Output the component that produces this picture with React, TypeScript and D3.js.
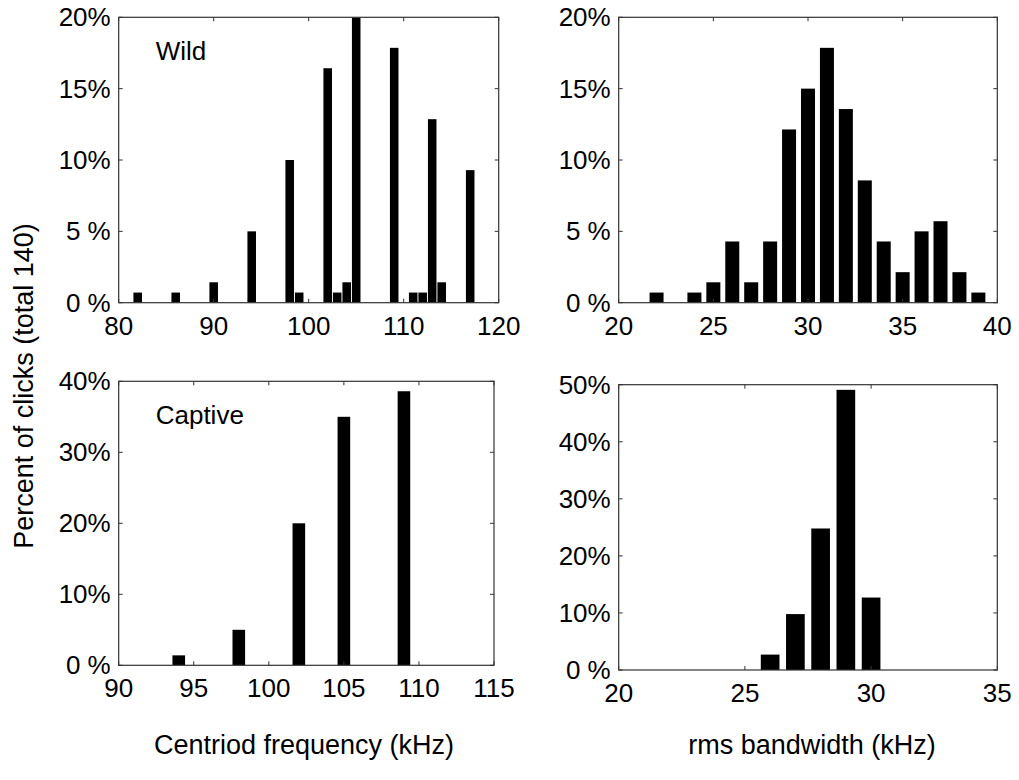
import React from 'react';
import * as d3 from 'd3';

// Wild group: centroid frequency histogram (kHz -> % of 140 clicks)
const wildFreqBins = [82, 86, 90, 94, 98, 99, 102, 103, 104, 105, 109, 111, 112, 113, 114, 117];
const wildFreqPct = [0.71, 0.71, 1.43, 5.0, 10.0, 0.71, 16.43, 0.71, 1.43, 20.0, 17.86, 0.71, 0.71, 12.86, 1.43, 9.29];

// Wild group: rms bandwidth histogram
const wildBwBins = [22, 24, 25, 26, 27, 28, 29, 30, 31, 32, 33, 34, 35, 36, 37, 38, 39];
const wildBwPct = [0.71, 0.71, 1.43, 4.29, 1.43, 4.29, 12.14, 15.0, 17.86, 13.57, 8.57, 4.29, 2.14, 5.0, 5.71, 2.14, 0.71];

// Captive group
const captiveFreqBins = [94, 98, 102, 105, 109];
const captiveFreqPct = [1.4, 5.0, 20.0, 35.0, 38.6];
const captiveBwBins = [26, 27, 28, 29, 30];
const captiveBwPct = [2.7, 9.8, 24.8, 49.1, 12.7];

const freqTicksTop = [80, 90, 100, 110, 120];
const bwTicksTop = [20, 25, 30, 35, 40];
const freqTicksBottom = [90, 95, 100, 105, 110, 115];
const bwTicksBottom = [20, 25, 30, 35];
const pctTicksTop = [0, 5, 10, 15, 20];
const pctTicksCaptiveFreq = [0, 10, 20, 30, 40];
const pctTicksCaptiveBw = [0, 10, 20, 30, 40, 50];

const FONT = '"Liberation Sans", Arial, Helvetica, sans-serif';
const AXIS = '#333';

type PanelProps = {
  bins: number[];
  pct: number[];
  xDomain: [number, number];
  yDomain: [number, number];
  xTicks: number[];
  yTicks: number[];
  box: { x0: number; x1: number; y0: number; y1: number };
  barWidth: number;
  label?: string;
};

const fmtPct = (v: number) => (v < 10 ? `${v} %` : `${v}%`);

const Panel = ({ bins, pct, xDomain, yDomain, xTicks, yTicks, box, barWidth, label }: PanelProps) => {
  const x = d3.scaleLinear().domain(xDomain).range([box.x0, box.x1]);
  const y = d3.scaleLinear().domain(yDomain).range([box.y1, box.y0]);
  const tick = 4;
  const clipId = `clip-${box.x0}-${box.y0}`.replace(/\./g, '_');

  return (
    <g>
      <defs>
        <clipPath id={clipId}>
          <rect x={box.x0} y={box.y0} width={box.x1 - box.x0} height={box.y1 - box.y0} />
        </clipPath>
      </defs>
      <g clipPath={`url(#${clipId})`}>
        {bins.map((b, i) => (
          <rect
            key={b}
            x={x(b - barWidth / 2)}
            y={y(pct[i])}
            width={x(b + barWidth / 2) - x(b - barWidth / 2)}
            height={y(0) - y(pct[i])}
            fill="#000"
          />
        ))}
      </g>
      <rect
        x={box.x0}
        y={box.y0}
        width={box.x1 - box.x0}
        height={box.y1 - box.y0}
        fill="none"
        stroke={AXIS}
        strokeWidth={1.2}
      />
      {xTicks.map((t) => (
        <g key={`xt${t}`}>
          <line x1={x(t)} x2={x(t)} y1={box.y1} y2={box.y1 - tick} stroke={AXIS} />
          <line x1={x(t)} x2={x(t)} y1={box.y0} y2={box.y0 + tick} stroke={AXIS} />
          <text x={x(t)} y={box.y1 + 32} textAnchor="middle" fontSize={26} fontFamily={FONT}>
            {t}
          </text>
        </g>
      ))}
      {yTicks.map((t) => (
        <g key={`yt${t}`}>
          <line x1={box.x0} x2={box.x0 + tick} y1={y(t)} y2={y(t)} stroke={AXIS} />
          <line x1={box.x1} x2={box.x1 - tick} y1={y(t)} y2={y(t)} stroke={AXIS} />
          <text
            x={box.x0 - 8}
            y={y(t)}
            textAnchor="end"
            dominantBaseline="central"
            fontSize={26}
            fontFamily={FONT}
          >
            {fmtPct(t)}
          </text>
        </g>
      ))}
      {label && (
        <text x={box.x0 + 37} y={box.y0 + 43} fontSize={26} fontFamily={FONT}>
          {label}
        </text>
      )}
    </g>
  );
};

export default function App() {
  const W = 1019;
  const H = 780;
  return (
    <div style={{ position: 'absolute', left: 0, top: 0 }}>
      <svg width={W} height={H} style={{ display: 'block', background: '#fff' }}>
        <rect width={W} height={H} fill="#fff" />
        <Panel
          bins={wildFreqBins}
          pct={wildFreqPct}
          xDomain={[80, 120]}
          yDomain={[0, 20]}
          xTicks={freqTicksTop}
          yTicks={pctTicksTop}
          box={{ x0: 118.7, x1: 498.7, y0: 17.3, y1: 302.7 }}
          barWidth={0.9}
          label="Wild"
        />
        <Panel
          bins={wildBwBins}
          pct={wildBwPct}
          xDomain={[20, 40]}
          yDomain={[0, 20]}
          xTicks={bwTicksTop}
          yTicks={pctTicksTop}
          box={{ x0: 618.7, x1: 997.3, y0: 17.3, y1: 302.7 }}
          barWidth={0.74}
        />
        <Panel
          bins={captiveFreqBins}
          pct={captiveFreqPct}
          xDomain={[90, 115]}
          yDomain={[0, 40]}
          xTicks={freqTicksBottom}
          yTicks={pctTicksCaptiveFreq}
          box={{ x0: 118.7, x1: 494, y0: 381.3, y1: 665.3 }}
          barWidth={0.84}
          label="Captive"
        />
        <Panel
          bins={captiveBwBins}
          pct={captiveBwPct}
          xDomain={[20, 35]}
          yDomain={[0, 50]}
          xTicks={bwTicksBottom}
          yTicks={pctTicksCaptiveBw}
          box={{ x0: 618.7, x1: 997.3, y0: 384.7, y1: 670 }}
          barWidth={0.74}
        />
        <text
          transform="translate(33,386) rotate(-90)"
          textAnchor="middle"
          fontSize={27}
          fontFamily={FONT}
        >
          Percent of clicks (total 140)
        </text>
        <text x={304} y={754} textAnchor="middle" fontSize={27} fontFamily={FONT}>
          Centriod frequency (kHz)
        </text>
        <text x={812} y={754} textAnchor="middle" fontSize={27} fontFamily={FONT}>
          rms bandwidth (kHz)
        </text>
      </svg>
    </div>
  );
}
